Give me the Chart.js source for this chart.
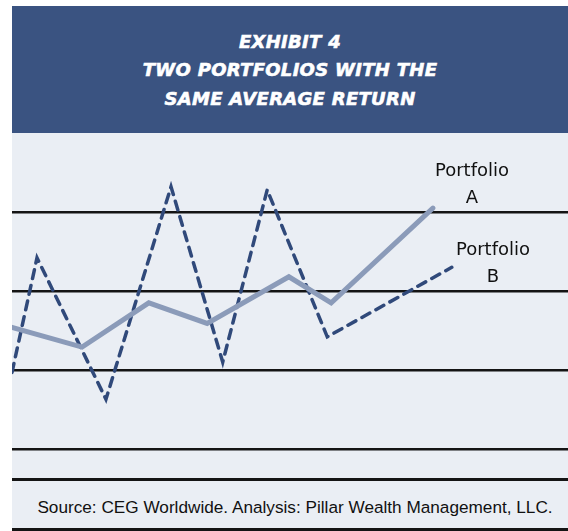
<!DOCTYPE html>
<html>
<head>
<meta charset="utf-8">
<script src="https://cdn.jsdelivr.net/npm/chart.js"></script>
<style>
  body { margin: 0; background: #ffffff; width: 568px; height: 531px; overflow: hidden; position: relative; }
  .header {
    position: absolute; left: 12px; top: 6px; width: 556px; height: 127px;
    background: #3a5381; color: #ffffff; text-align: center;
    font-family: "DejaVu Sans", sans-serif; font-weight: bold; font-style: italic;
    font-size: 18px; line-height: 28.5px; letter-spacing: 0.3px;
    -webkit-text-stroke: 0.6px #ffffff;
    padding-top: 21.5px; box-sizing: border-box;
  }
  .panel { position: absolute; left: 12px; top: 133px; width: 556px; height: 398px; background: #eaeef4; }
  .chartBox { position: absolute; left: 0; top: 0; width: 556px; height: 322px; }
  .rule { position: absolute; left: 0; width: 556px; height: 3px; background: #141414; }
  .label {
    position: absolute; width: 120px; text-align: center; color: #111;
    font-family: "DejaVu Sans", sans-serif; font-size: 18px; line-height: 26.5px;
  }
  .source {
    position: absolute; left: 0; width: 566px; text-align: center; color: #111;
    font-family: "Liberation Sans", Arial, sans-serif; font-size: 17.2px; line-height: 20px;
  }
</style>
</head>
<body>
<div class="header">EXHIBIT 4<br>TWO PORTFOLIOS WITH THE<br>SAME AVERAGE RETURN</div>
<div class="panel">
  <div class="chartBox"><canvas id="exhibit"></canvas></div>
  <div class="rule" style="top:345px"></div>
  <div class="rule" style="top:395px"></div>
  <div class="label" style="left:400px; top:24px">Portfolio<br>A</div>
  <div class="label" style="left:421px; top:103px">Portfolio<br>B</div>
  <div class="source" style="top:364px">Source: CEG Worldwide. Analysis: Pillar Wealth Management, LLC.</div>
</div>
<script>
// 포트폴리오 값 (x: 기간, y: 수익)
var portfolioAX = [0, 12.6, 24.6, 35.1, 49.8, 57.4, 75.7];
var portfolioAY = [15.4, 12.9, 18.5, 15.9, 21.8, 18.5, 30.5];
var portfolioBX = [0, 4.5, 16.9, 28.6, 37.9, 45.9, 56.7, 79.1];
var portfolioBY = [9.7, 24.2, 6.3, 33.2, 11.0, 32.8, 14.2, 23.0];
var yTicks = [0, 10, 20, 30];

function toPoints(xs, ys) {
  var pts = [];
  for (var i = 0; i < xs.length; i++) pts.push({ x: xs[i], y: ys[i] });
  return pts;
}

var ctx = document.getElementById('exhibit').getContext('2d');
new Chart(ctx, {
  type: 'line',
  data: {
    datasets: [{
      label: 'Portfolio A',
      data: toPoints(portfolioAX, portfolioAY),
      borderColor: '#8b9bb9',
      borderWidth: 5,
      pointRadius: 0,
      tension: 0,
      borderCapStyle: 'round',
      borderJoinStyle: 'miter'
    }, {
      label: 'Portfolio B',
      data: toPoints(portfolioBX, portfolioBY),
      borderColor: '#30497a',
      borderWidth: 3.5,
      borderDash: [9, 7],
      borderCapStyle: 'round',
      pointRadius: 0,
      tension: 0,
      borderJoinStyle: 'miter'
    }]
  },
  options: {
    responsive: true,
    maintainAspectRatio: false,
    animation: false,
    layout: { padding: { top: 0, bottom: 6, left: 0, right: 0 } },
    plugins: { legend: { display: false }, tooltip: { enabled: false } },
    scales: {
      x: { type: 'linear', min: 0, max: 100, display: false },
      y: {
        min: 0, max: 40,
        afterBuildTicks: function(axis) {
          axis.ticks = yTicks.map(function(v) { return { value: v }; });
        },
        ticks: { display: false },
        border: { display: false },
        grid: { color: '#141414', lineWidth: 2.5, drawTicks: false }
      }
    }
  }
});
</script>
</body>
</html>
